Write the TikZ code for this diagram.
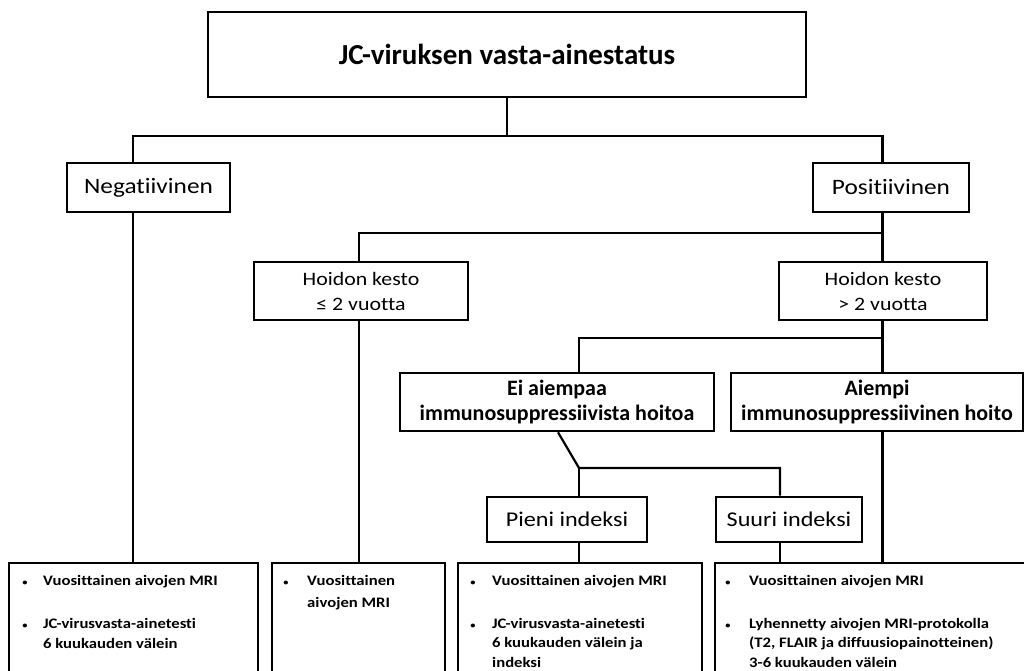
\documentclass[tikz,border=0pt]{standalone}
\usepackage{fontspec}
\setmainfont{Carlito}[FakeStretch=1.15,Ligatures=NoCommon]
\newfontfamily\condfont{Carlito}[Ligatures=NoCommon]
\tikzset{
  box/.style={draw, line width=2.6pt, inner sep=0pt, align=center, anchor=center},
  conn/.style={line width=2.2pt},
  bt/.style={anchor=base west, inner sep=0pt, font=\bfseries\fontsize{14.5}{16}\selectfont},
  bl/.style={anchor=base, inner sep=0pt, font=\bfseries\fontsize{9}{12}\selectfont},
}
\begin{document}
\begin{tikzpicture}[x=1pt,y=-1pt]
\useasboundingbox (0,0) rectangle (1024,671);
\clip (0,0) rectangle (1024,671);
% coordinates for connector columns
\coordinate (nx) at (133,0);
\coordinate (hx) at (359,0);
\coordinate (px) at (882.5,0);
\coordinate (ex) at (579,0);
\coordinate (sx) at (780,0);
\coordinate (d0) at (558,0);
\coordinate (j1) at (507,136);
\coordinate (j2) at (0,233);
\coordinate (j3) at (0,338);
\coordinate (j4) at (579,468);
% boxes
\node[box, minimum width=598pt, minimum height=85pt,
  font=\condfont\bfseries\fontsize{29}{30}\selectfont] (top) at (507,54.5)
  {JC-viruksen vasta-ainestatus};
\node[box, minimum width=163pt, minimum height=49pt,
  font=\fontsize{22}{25}\selectfont] (neg) at (148.5,187.5) {Negatiivinen};
\node[box, minimum width=156pt, minimum height=49pt,
  font=\fontsize{22}{25}\selectfont] (pos) at (891,187.5) {Positiivinen};
\node[box, minimum width=214pt, minimum height=58pt,
  font=\fontsize{19}{25}\selectfont] (hle) at (361,291) {Hoidon kesto\\ ≤ 2 vuotta};
\node[box, minimum width=208pt, minimum height=58pt,
  font=\fontsize{19}{25}\selectfont] (hgt) at (883,291) {Hoidon kesto\\ > 2 vuotta};
\node[box, minimum width=314pt, minimum height=58pt,
  font=\condfont\bfseries\fontsize{22}{25}\selectfont] (ei) at (557,402)
  {Ei aiempaa\\ immunosuppressiivista hoitoa};
\node[box, minimum width=292pt, minimum height=58pt,
  font=\condfont\bfseries\fontsize{22}{25}\selectfont] (aiempi) at (877,402)
  {Aiempi\\ immunosuppressiivinen hoito};
\node[box, minimum width=160pt, minimum height=45pt,
  font=\fontsize{21}{25}\selectfont] (pieni) at (567,519.5) {Pieni indeksi};
\node[box, minimum width=146pt, minimum height=45pt,
  font=\fontsize{21}{25}\selectfont] (suuri) at (789,519.5) {Suuri indeksi};
\node[box, minimum width=249pt, minimum height=127pt] (b1) at (133.5,626.5) {};
\node[box, minimum width=173pt, minimum height=127pt] (b2) at (358.5,626.5) {};
\node[box, minimum width=244pt, minimum height=127pt] (b3) at (580,626.5) {};
\node[box, minimum width=315pt, minimum height=127pt] (b4) at (872.5,626.5) {};
% connectors
\draw[conn] (top.south) -- (j1);
\draw[conn] (neg.north -| nx) |- (j1) -| (pos.north -| px);
\draw[conn] (neg.south -| nx) -- (b1.north -| nx);
\draw[conn] (pos.south -| px) -- (hgt.north -| px);
\draw[conn] (px |- j2) -| (hle.north -| hx);
\draw[conn] (hle.south -| hx) -- (b2.north -| hx);
\draw[conn] (hgt.south -| px) -- (aiempi.north -| px);
\draw[conn] (px |- j3) -| (ei.north -| ex);
\draw[conn] (aiempi.south -| px) -- (b4.north -| px);
\draw[conn] (ei.south -| d0) -- (j4) -| (suuri.north -| sx);
\draw[conn] (j4) -- (pieni.north -| j4);
\draw[conn] (pieni.south -| j4) -- (b3.north -| j4);
\draw[conn] (suuri.south -| sx) -- (b4.north -| sx);
% bottom texts
\node[bl] (u1a) at (25,585) {\textbullet};
\node[bt] (t1a) at (43,585) {Vuosittainen aivojen MRI};
\node[bl] (u1b) at (25,628) {\textbullet};
\node[bt] (t1b) at (43,628) {JC-virusvasta-ainetesti};
\node[bt] (t1c) at (43,648) {6 kuukauden välein};
\node[bl] (u2a) at (286,585) {\textbullet};
\node[bt] (t2a) at (307,585) {Vuosittainen};
\node[bt] (t2b) at (307,607) {aivojen MRI};
\node[bl] (u3a) at (473,585) {\textbullet};
\node[bt] (t3a) at (492,585) {Vuosittainen aivojen MRI};
\node[bl] (u3b) at (473,628) {\textbullet};
\node[bt] (t3b) at (492,628) {JC-virusvasta-ainetesti};
\node[bt] (t3c) at (492,647) {6 kuukauden välein ja};
\node[bt] (t3d) at (492,667) {indeksi};
\node[bl] (u4a) at (728,585) {\textbullet};
\node[bt] (t4a) at (749,585) {Vuosittainen aivojen MRI};
\node[bl] (u4b) at (728,628) {\textbullet};
\node[bt] (t4b) at (749,628) {Lyhennetty aivojen MRI-protokolla};
\node[bt] (t4c) at (749,647) {(T2, FLAIR ja diffuusiopainotteinen)};
\node[bt] (t4d) at (749,667) {3-6 kuukauden välein};
\end{tikzpicture}
\end{document}
